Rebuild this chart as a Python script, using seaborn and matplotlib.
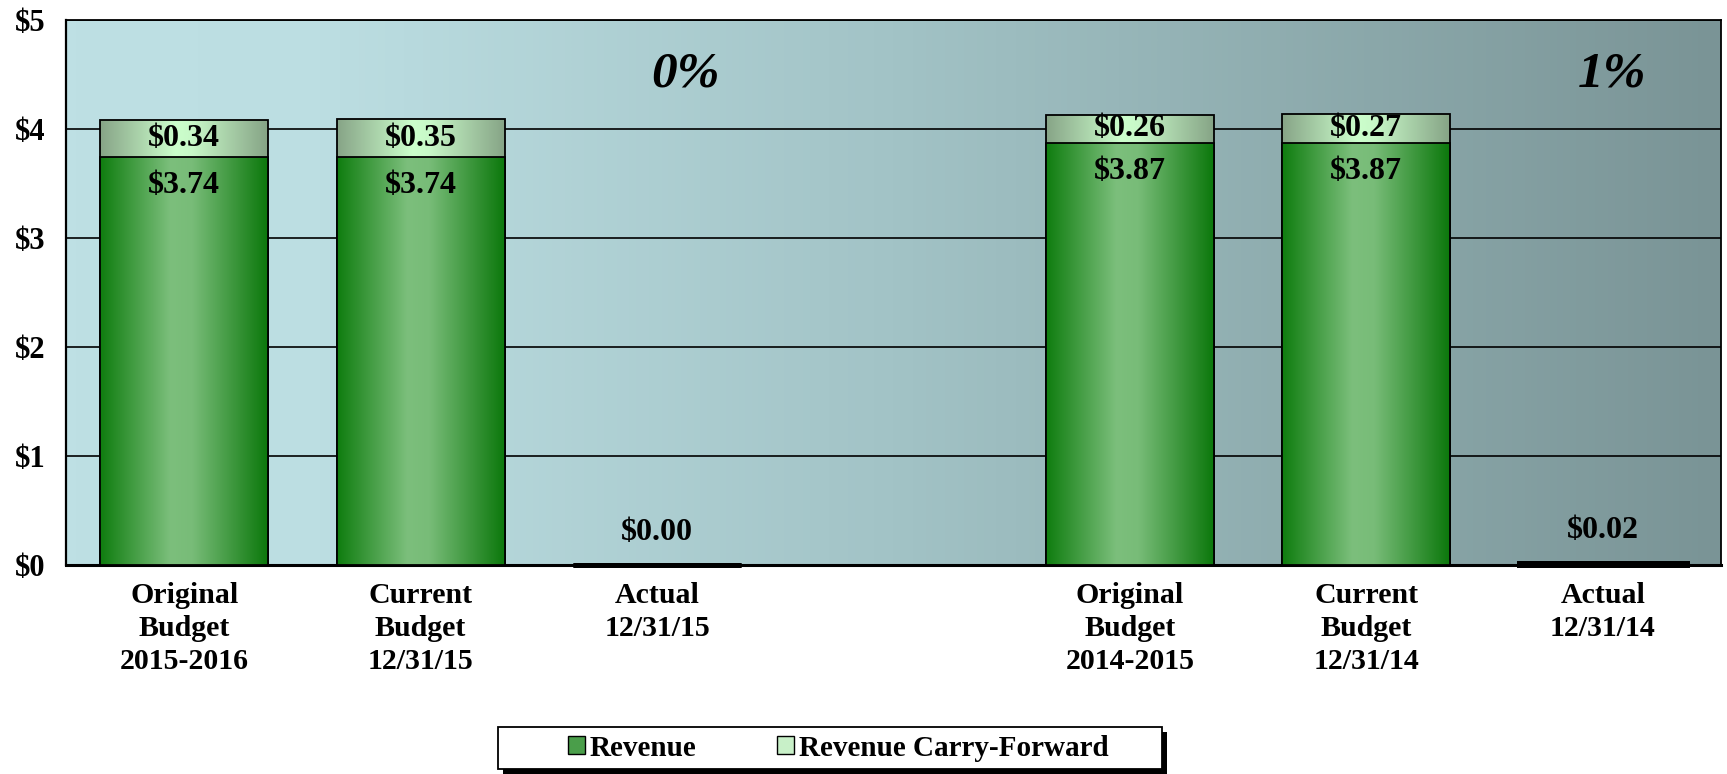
import numpy as np
import pandas as pd
import matplotlib
matplotlib.use('Agg')
import matplotlib.pyplot as plt
from matplotlib.colors import LinearSegmentedColormap
from matplotlib.patches import Patch, Rectangle
import seaborn as sns

sns.set_style('white')
plt.rcParams['font.family'] = ['Liberation Serif', 'DejaVu Serif']
plt.rcParams['font.weight'] = 'bold'
plt.rcParams['text.color'] = 'black'
plt.rcParams['xtick.color'] = 'black'
plt.rcParams['ytick.color'] = 'black'

# ---- data ----
categories = ['Original\nBudget\n2015-2016', 'Current\nBudget\n12/31/15', 'Actual\n12/31/15', '',
              'Original\nBudget\n2014-2015', 'Current\nBudget\n12/31/14', 'Actual\n12/31/14']
revenue = [3.74, 3.74, 0.00, np.nan, 3.87, 3.87, 0.02]
carry_forward = [0.34, 0.35, 0.00, np.nan, 0.26, 0.27, 0.00]
pct_labels = ['0%', '1%']
pct_x = [2.12, 6.04]

df = pd.DataFrame({'category': categories, 'revenue': revenue, 'carry': carry_forward})
df['total'] = df['revenue'] + df['carry']

# ---- figure ----
W, H = 1727, 774
fig = plt.figure(figsize=(W / 100, H / 100), dpi=100)
ax = fig.add_axes([0.0382, 0.270, 0.9583, 0.7044])

# background gradient
bg_cmap = LinearSegmentedColormap.from_list('bg', [(0, '#bee0e4'), (0.15, '#bcdee2'),
                                                   (0.5, '#a2c3c6'), (1, '#7a9496')])
ax.imshow(np.linspace(0, 1, 256).reshape(1, -1), extent=[0, 1, 0, 1], transform=ax.transAxes,
          aspect='auto', cmap=bg_cmap, zorder=0, interpolation='bilinear')

sns.barplot(data=df, x='category', y='total', order=categories, width=0.71, color='#c8f0c8',
            saturation=1, errorbar=None, edgecolor='black', linewidth=1.3, ax=ax, zorder=2)
sns.barplot(data=df, x='category', y='revenue', order=categories, width=0.71, color='#4a9e4a',
            saturation=1, errorbar=None, edgecolor='black', linewidth=1.3, ax=ax, zorder=3)

rev_cmap = LinearSegmentedColormap.from_list('rev', [(0, '#0f7d0f'), (0.42, '#7cbf7c'),
                                                     (0.55, '#78bc78'), (1, '#0c780c')])
cf_cmap = LinearSegmentedColormap.from_list('cf', [(0, '#87a487'), (0.45, '#ccffcc'),
                                                   (0.55, '#c8f8c8'), (1, '#86a486')])
grad = np.linspace(0, 1, 256).reshape(1, -1)

for container, cmap, z in [(ax.containers[0], cf_cmap, 2), (ax.containers[1], rev_cmap, 3)]:
    for bar in container.patches:
        h = bar.get_height()
        if np.isnan(h):
            continue
        if h < 0.05:
            # tiny "Actual" bars show as a thick black line on the axis
            bar.set_facecolor('black')
            bar.set_linewidth(3.5)
            bar.set_zorder(4)
            bar.set_clip_on(False)
            continue
        x0, w = bar.get_x(), bar.get_width()
        im = ax.imshow(grad, extent=[x0, x0 + w, bar.get_y(), bar.get_y() + h], aspect='auto',
                       cmap=cmap, zorder=z + 0.05, interpolation='bilinear')
        im.set_clip_path(bar)
        bar.set_facecolor('none')
        bar.set_zorder(z + 0.1)

# value labels
for i, row in df.iterrows():
    if np.isnan(row['revenue']):
        continue
    if row['total'] < 0.05:
        ax.text(i, row['total'] + 0.3, f"${row['total']:.2f}", ha='center', va='center',
                fontsize=23, fontweight='bold', zorder=5)
        continue
    ax.text(i, row['revenue'] - 0.26, f"${row['revenue']:.2f}", ha='center', va='center',
            fontsize=23, fontweight='bold', zorder=5)
    ax.text(i, row['revenue'] + row['carry'] / 2, f"${row['carry']:.2f}", ha='center', va='center',
            fontsize=23, fontweight='bold', zorder=5)

for lab, xp in zip(pct_labels, pct_x):
    ax.text(xp, 4.5, lab, ha='center', va='center', fontsize=37, fontweight='bold',
            fontstyle='italic', zorder=5)

# axes styling
ax.set_xlim(-0.5, len(categories) - 0.5)
ax.set_ylim(0, 5)
ax.set_yticks(range(6))
ax.set_yticklabels([f'${v}' for v in range(6)], fontsize=22, fontweight='bold')
ax.set_xticks(range(len(categories)))
ax.set_xticklabels(categories, fontsize=21.5, fontweight='bold', linespacing=1.3)
ax.set_xticks(np.arange(-0.5, len(categories), 1), minor=True)
ax.tick_params(axis='x', which='major', length=0, pad=12)
ax.tick_params(axis='x', which='minor', length=9, width=1.3, direction='out', color='black')
ax.tick_params(axis='y', which='major', length=9, width=1.3, direction='out', color='black', pad=6)
ax.set_xlabel('')
ax.set_ylabel('')
ax.yaxis.grid(True, color='black', linewidth=1.2)
ax.set_axisbelow(True)
for sp in ax.spines.values():
    sp.set_visible(True)
    sp.set_color('black')
    sp.set_linewidth(1.3)
ax.spines['bottom'].set_linewidth(2.2)
ax.spines['left'].set_linewidth(1.6)

# legend box with hard black shadow
bx0, bx1, by0, by1 = 498, 1162, 727, 769
fig.patches.append(Rectangle(((bx0 + 5) / W, 1 - (by1 + 5) / H), (bx1 - bx0) / W, (by1 - by0) / H,
                             transform=fig.transFigure, facecolor='black', edgecolor='none', zorder=1))
fig.patches.append(Rectangle((bx0 / W, 1 - by1 / H), (bx1 - bx0) / W, (by1 - by0) / H,
                             transform=fig.transFigure, facecolor='white', edgecolor='black',
                             linewidth=1.3, zorder=2))

handles = [Patch(facecolor='#4a9e4a', edgecolor='black', label='Revenue'),
           Patch(facecolor='#c8f0c8', edgecolor='black', label='Revenue Carry-Forward')]
leg = fig.legend(handles=handles, loc='center', bbox_to_anchor=(838 / W, 1 - 748 / H), ncol=2,
                 frameon=False, prop={'size': 21, 'weight': 'bold'},
                 handlelength=0.6, handleheight=0.6, handletextpad=0.15, columnspacing=2.75,
                 borderpad=0.2, borderaxespad=0)
leg.set_zorder(3)
for t in leg.get_texts():
    t.set_fontweight('bold')

fig.savefig('out.png', dpi=100)
